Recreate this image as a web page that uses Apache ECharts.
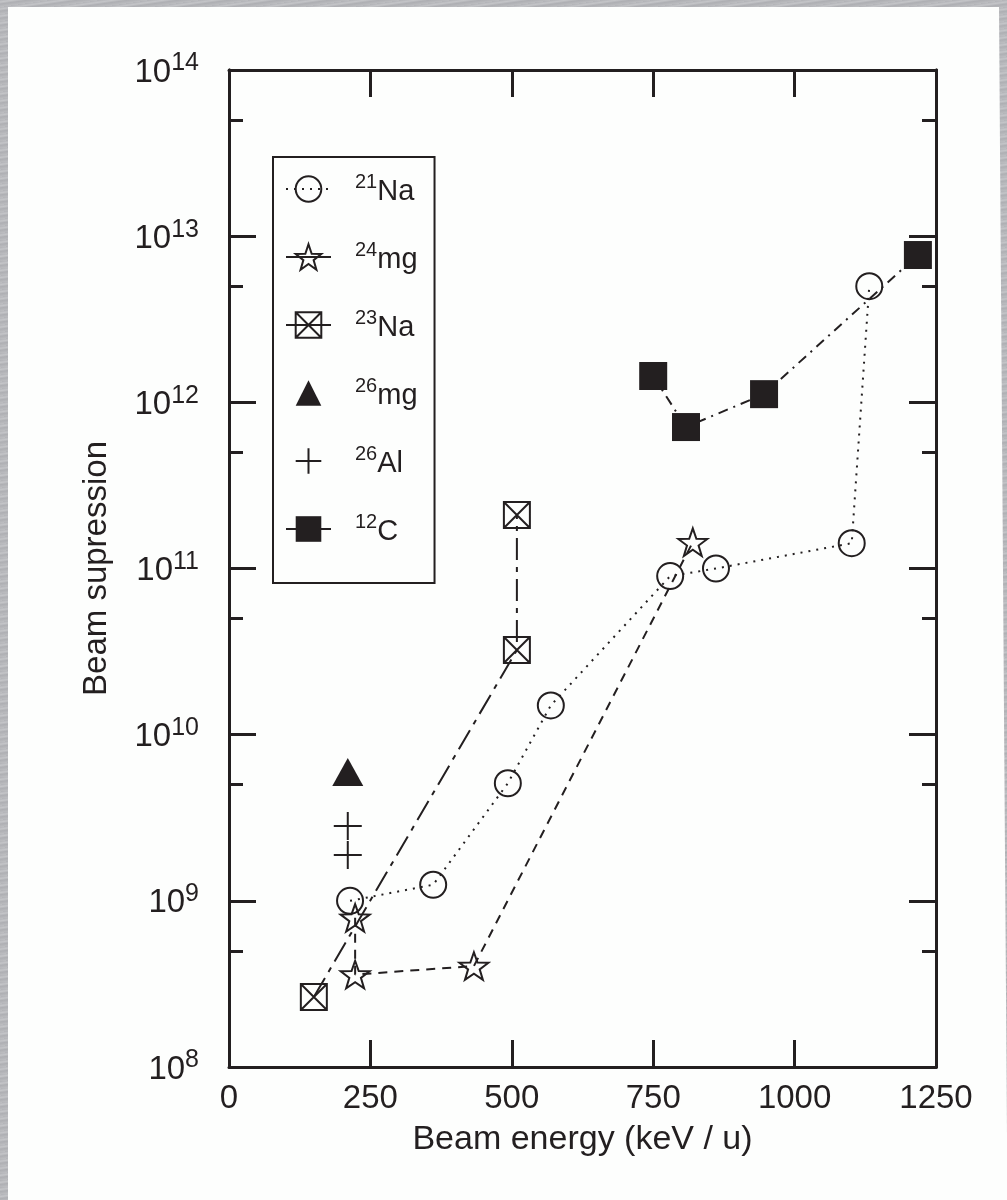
<!DOCTYPE html>
<html>
<head>
<meta charset="utf-8">
<script src="https://cdn.jsdelivr.net/npm/echarts@6/dist/echarts.min.js"></script>
<style>
html, body { margin: 0; padding: 0; width: 1007px; height: 1200px; overflow: hidden;
  background: repeating-linear-gradient(172deg, #b3b4b8 0px, #c4c5c8 2px, #aeafb3 4px, #bcbdc0 7px); }
#paper { position: absolute; left: 8px; top: 7px; width: 999px; height: 1193px; background: #fdfefd;
  clip-path: polygon(0 0, 991px 0, 999px 1130px, 999px 1193px, 0 1193px); }
#main { position: absolute; left: 0; top: 0; width: 1007px; height: 1200px; }
</style>
</head>
<body>
<div id="paper"></div>
<div id="main"></div>
<script>
// isotopes shown in the legend, in order
var isotopes = ['21Na', '24mg', '23Na', '26mg', '26Al', '12C'];
var massNumbers = ['21', '24', '23', '26', '26', '12'];
var elements = ['Na', 'mg', 'Na', 'mg', 'Al', 'C'];

// beam energy (keV/u) and beam suppression
var na21X = [214, 361, 493, 569, 780, 861, 1101, 1132];
var na21Y = [1.0e9, 1.25e9, 5.1e9, 1.5e10, 9.0e10, 1.0e11, 1.42e11, 5.0e12];
var mg24X = [223, 223, 433, 820];
var mg24Y = [7.9e8, 3.6e8, 4.05e8, 1.44e11];
var na23X = [150, 509, 509];
var na23Y = [2.64e8, 3.23e10, 2.1e11];
var mg26X = [210];
var mg26Y = [5.96e9];
var al26X = [210, 210];
var al26Y = [2.82e9, 1.89e9];
var c12X = [750, 808, 946, 1218];
var c12Y = [1.44e12, 7.1e11, 1.12e12, 7.7e12];

var yDecades = [1e8, 1e9, 1e10, 1e11, 1e12, 1e13, 1e14];
var yMinor = [5e8, 5e9, 5e10, 5e11, 5e12, 5e13];

var ink = '#231f20';
var font = "'Liberation Sans', Arial, sans-serif";

var starPath = 'path://M50,0L61.76,33.82L97.55,34.55L69.02,56.18L79.39,90.45L50,70L20.61,90.45L30.98,56.18L2.45,34.55L38.24,33.82Z';
var boxXPath = 'path://M0,0L10,0L10,10L0,10ZM0,0L10,10M10,0L0,10';
var plusPath = 'path://M0,5L10,5M5,0L5,10';

function pairs(xs, ys) {
    var out = [];
    for (var i = 0; i < xs.length; i++) out.push([xs[i], ys[i]]);
    return out;
}

function yAxisDef(pos, values, len, showLabel) {
    return {
        type: 'log',
        logBase: 10,
        position: pos,
        min: 1e8,
        max: 1e14,
        axisLine: { show: true, lineStyle: { color: ink, width: 3 } },
        axisTick: { show: true, inside: true, length: len, customValues: values,
            lineStyle: { color: ink, width: 3 } },
        axisLabel: showLabel ? {
            show: true,
            customValues: yDecades,
            margin: 30,
            formatter: function (v) {
                return '{a|10}{b|' + Math.round(Math.log10(v)) + '}';
            },
            rich: {
                a: { fontSize: 33, fontFamily: font, color: ink, lineHeight: 38, verticalAlign: 'bottom' },
                b: { fontSize: 25, fontFamily: font, color: ink, verticalAlign: 'top', lineHeight: 26 }
            }
        } : { show: false },
        splitLine: { show: false },
        minorTick: { show: false }
    };
}

var yAxes = [
    yAxisDef('left', yDecades, 27, true),
    yAxisDef('left', yMinor, 14, false),
    yAxisDef('right', yDecades, 27, false),
    yAxisDef('right', yMinor, 14, false)
];
yAxes[0].name = 'Beam supression';
yAxes[0].nameLocation = 'middle';
yAxes[0].nameGap = 116;
yAxes[0].nameTextStyle = { fontSize: 33, fontFamily: font, color: ink };

function xAxisDef(pos, showLabel) {
    return {
        type: 'value',
        position: pos,
        min: 0,
        max: 1250,
        interval: 250,
        axisLine: { show: true, lineStyle: { color: ink, width: 3 } },
        axisTick: { show: true, inside: true, length: 27, lineStyle: { color: ink, width: 3 } },
        axisLabel: { show: showLabel, margin: 15, fontSize: 33, fontFamily: font, color: ink,
            formatter: function (v) { return String(v); } },
        splitLine: { show: false }
    };
}
var xAxes = [xAxisDef('bottom', true), xAxisDef('top', false)];
xAxes[0].name = 'Beam energy (keV / u)';
xAxes[0].nameLocation = 'middle';
xAxes[0].nameGap = 56;
xAxes[0].nameTextStyle = { fontSize: 34, fontFamily: font, color: ink, verticalAlign: 'top' };

var hollow = { color: 'transparent', borderColor: ink, borderWidth: 2 };
var filled = { color: ink, borderColor: ink, borderWidth: 0 };

var myChart = echarts.init(document.getElementById('main'), null, { renderer: 'canvas' });
var option = {
    backgroundColor: 'transparent',
    animation: false,
    grid: { left: 229, top: 70, right: 71, bottom: 133, outerBoundsMode: 'none', containLabel: false },
    xAxis: xAxes,
    yAxis: yAxes,
    legend: {
        orient: 'vertical',
        left: 273,
        top: 157,
        padding: [15, 17, 37, 12],
        itemWidth: 45,
        itemHeight: 32,
        itemGap: 34,
        borderColor: ink,
        borderWidth: 2,
        backgroundColor: '#fdfefd',
        selectedMode: false,
        data: [
            { name: isotopes[0] },
            { name: isotopes[1], lineStyle: { type: 'solid' } },
            { name: isotopes[2], lineStyle: { type: 'solid' } },
            { name: isotopes[3] },
            { name: isotopes[4] },
            { name: isotopes[5], lineStyle: { type: 'solid' } }
        ],
        formatter: function (name) {
            var i = isotopes.indexOf(name);
            return '{m|' + massNumbers[i] + '}{e|' + elements[i] + '}';
        },
        textStyle: {
            rich: {
                m: { fontSize: 20, fontFamily: font, color: ink, verticalAlign: 'top', lineHeight: 22, padding: [0, 0, 0, 19] },
                e: { fontSize: 29, fontFamily: font, color: ink, verticalAlign: 'bottom', lineHeight: 34 }
            }
        }
    },
    series: [
        {
            name: isotopes[0], type: 'line', data: pairs(na21X, na21Y),
            symbol: 'circle', symbolSize: 26, itemStyle: hollow,
            lineStyle: { color: ink, width: 2, type: [2, 6] }, z: 3
        },
        {
            name: isotopes[1], type: 'line', data: pairs(mg24X, mg24Y),
            symbol: starPath, symbolSize: 29, symbolKeepAspect: true, itemStyle: hollow,
            lineStyle: { color: ink, width: 2, type: [9, 7] }, z: 3
        },
        {
            name: isotopes[2], type: 'line', data: pairs(na23X, na23Y),
            symbol: boxXPath, symbolSize: 26, itemStyle: hollow,
            lineStyle: { color: ink, width: 2, type: [22, 7, 5, 7] }, z: 3
        },
        {
            name: isotopes[3], type: 'line', data: pairs(mg26X, mg26Y),
            symbol: 'triangle', symbolSize: [31, 28], itemStyle: filled,
            lineStyle: { color: ink, opacity: 0 }, z: 3
        },
        {
            name: isotopes[4], type: 'line', data: pairs(al26X, al26Y),
            symbol: plusPath, symbolSize: 28, itemStyle: { color: 'transparent', borderColor: ink, borderWidth: 2 },
            lineStyle: { color: ink, opacity: 0 }, z: 3
        },
        {
            name: isotopes[5], type: 'line', data: pairs(c12X, c12Y),
            symbol: 'rect', symbolSize: 28, itemStyle: filled,
            lineStyle: { color: ink, width: 2, type: [10, 6, 2, 6] }, z: 4
        }
    ]
};
myChart.setOption(option);
</script>
</body>
</html>
